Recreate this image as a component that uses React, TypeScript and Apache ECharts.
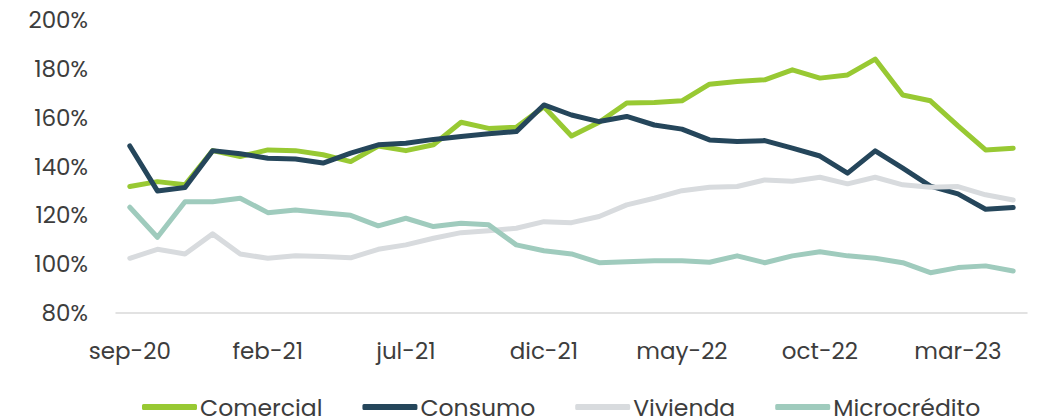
import React, { useEffect, useRef } from "react";
import * as echarts from "echarts";

const months = [
  "sep-20", "oct-20", "nov-20", "dic-20", "ene-21", "feb-21", "mar-21", "abr-21", "may-21",
  "jun-21", "jul-21", "ago-21", "sep-21", "oct-21", "nov-21", "dic-21", "ene-22", "feb-22",
  "mar-22", "abr-22", "may-22", "jun-22", "jul-22", "ago-22", "sep-22", "oct-22", "nov-22",
  "dic-22", "ene-23", "feb-23", "mar-23", "abr-23", "may-23",
];

const comercial = [
  131.8, 133.8, 132.5, 146.5, 144.1, 146.8, 146.5, 144.8, 142.0,
  148.4, 146.5, 148.9, 158.1, 155.6, 156.1, 164.5, 152.5, 158.1,
  166.0, 166.2, 166.9, 173.7, 174.8, 175.5, 179.6, 176.2, 177.5,
  184.0, 169.3, 166.9, 156.6, 146.8, 147.5,
];

const consumo = [
  148.4, 130.0, 131.4, 146.5, 145.2, 143.4, 143.1, 141.4, 145.5,
  148.9, 149.5, 151.1, 152.3, 153.4, 154.3, 165.2, 161.1, 158.4,
  160.5, 157.0, 155.3, 150.9, 150.2, 150.6, 147.5, 144.3, 137.3,
  146.4, 139.3, 132.0, 128.8, 122.5, 123.2,
];

const vivienda = [
  102.4, 106.1, 104.2, 112.4, 104.2, 102.4, 103.4, 103.1, 102.6,
  106.1, 107.9, 110.6, 112.9, 113.7, 114.7, 117.4, 117.0, 119.5,
  124.3, 127.0, 130.1, 131.5, 131.8, 134.5, 134.0, 135.6, 132.9,
  135.6, 132.5, 131.5, 131.8, 128.4, 126.3,
];

const microcredito = [
  123.3, 111.0, 125.6, 125.6, 127.0, 121.1, 122.2, 121.1, 120.0,
  115.7, 118.8, 115.4, 116.8, 116.1, 107.9, 105.5, 104.2, 100.6,
  101.0, 101.4, 101.4, 100.8, 103.4, 100.6, 103.4, 105.1, 103.4,
  102.4, 100.6, 96.5, 98.6, 99.3, 97.2,
];

const yTicks = [80, 100, 120, 140, 160, 180, 200];

const FONT = "Poppins, 'DejaVu Sans', sans-serif";
const TEXT = "#3d3d3d";

export default function App() {
  const ref = useRef<HTMLDivElement>(null);

  useEffect(() => {
    document.body.style.margin = "0";
    if (!ref.current) return;
    const chart = echarts.init(ref.current, null, { renderer: "svg" });
    const mk = (name: string, data: number[], color: string) => ({
      name,
      type: "line",
      data,
      symbol: "none",
      showSymbol: false,
      lineStyle: { color, width: 5, cap: "round", join: "round" },
      itemStyle: { color },
    });
    chart.setOption({
      animation: false,
      textStyle: { fontFamily: FONT },
      grid: { left: 116, right: 16, top: 20, bottom: 105, containLabel: false },
      xAxis: {
        type: "category",
        data: months,
        boundaryGap: true,
        axisLine: { show: true, lineStyle: { color: "#d9d9d9", width: 1.5 } },
        axisTick: { show: false },
        axisLabel: {
          interval: 4,
          margin: 26,
          fontSize: 23,
          color: TEXT,
          fontFamily: FONT,
        },
      },
      yAxis: {
        type: "value",
        min: yTicks[0],
        max: yTicks[yTicks.length - 1],
        interval: 20,
        axisLine: { show: false },
        axisTick: { show: false },
        splitLine: { show: false },
        axisLabel: {
          margin: 28,
          fontSize: 23,
          color: TEXT,
          fontFamily: FONT,
          formatter: (v: number) => `${v}%`,
        },
      },
      legend: {
        top: 390,
        left: 137,
        padding: 5,
        itemGap: 40,
        itemWidth: 55,
        itemHeight: 6,
        icon: "roundRect",
        textStyle: { fontSize: 23.5, color: TEXT, fontFamily: FONT, padding: [0, 0, 0, -2], lineHeight: 23 },
        data: ["Comercial", "Consumo", "Vivienda", "Microcrédito"],
      },
      series: [
        mk("Comercial", comercial, "#98c933"),
        mk("Consumo", consumo, "#25465b"),
        mk("Vivienda", vivienda, "#d8dbde"),
        mk("Microcrédito", microcredito, "#9fcbbd"),
      ],
    });
    return () => chart.dispose();
  }, []);

  return <div ref={ref} style={{ width: 1043, height: 418 }} />;
}
